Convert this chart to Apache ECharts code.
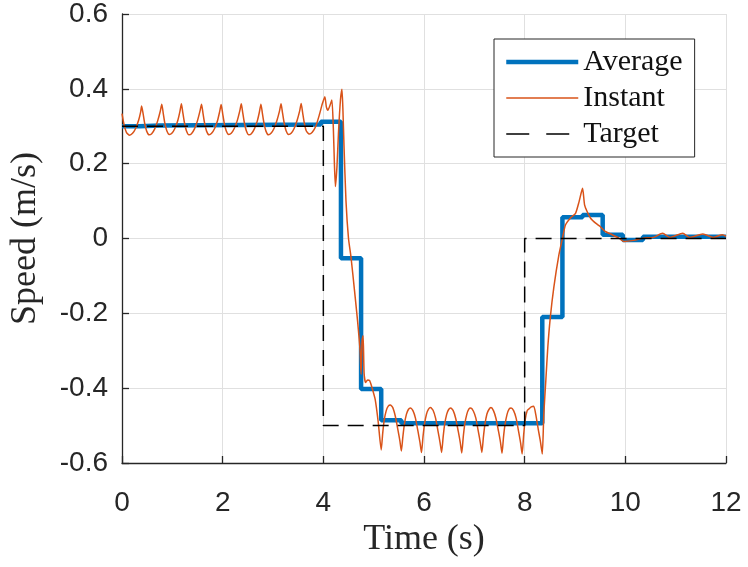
<!DOCTYPE html>
<html>
<head>
<meta charset="utf-8">
<script src="https://cdn.jsdelivr.net/npm/echarts@6/dist/echarts.min.js"></script>
<style>
  html, body { margin: 0; padding: 0; background: #fff; }
  #chart { width: 748px; height: 567px; }
</style>
</head>
<body>
<div id="chart"></div>
<script>
// tick labels
const xTicks = [0, 2, 4, 6, 8, 10, 12];
const yTicks = [-0.6, -0.4, -0.2, 0, 0.2, 0.4, 0.6];

// target speed (step profile)
const targetTime = [0, 4, 4, 8, 8, 12];
const targetSpeed = [0.3, 0.3, -0.5, -0.5, 0, 0];

// averaged speed, held between samples
const averageTime = [0, 0.35, 0.75, 3.95, 4.35, 4.75, 5.15, 5.55, 8.35, 8.75, 9.15, 9.55, 9.95, 10.35, 12];
const averageSpeed = [0.300, 0.302, 0.305, 0.312, -0.053, -0.402, -0.486, -0.494, -0.21, 0.057, 0.063, 0.01, -0.004, 0.005, 0.005];

// instant speed
const instantTime = [
  0, 0.04, 0.09, 0.15, 0.21, 0.27, 0.33, 0.37,
  0.39, 0.42, 0.45, 0.49, 0.54, 0.59, 0.65, 0.71, 0.76,
  0.79, 0.82, 0.85, 0.89, 0.94, 0.99, 1.05, 1.11, 1.15,
  1.18, 1.21, 1.24, 1.28, 1.33, 1.38, 1.44, 1.50, 1.55,
  1.58, 1.61, 1.64, 1.68, 1.73, 1.78, 1.84, 1.90, 1.94,
  1.97, 2.00, 2.03, 2.07, 2.12, 2.17, 2.23, 2.29, 2.34,
  2.37, 2.40, 2.43, 2.47, 2.52, 2.57, 2.63, 2.69, 2.73,
  2.76, 2.79, 2.82, 2.86, 2.91, 2.96, 3.02, 3.08, 3.13,
  3.16, 3.19, 3.22, 3.26, 3.31, 3.36, 3.42, 3.48, 3.53,
  3.56, 3.59, 3.62, 3.66, 3.72, 3.78, 3.85, 3.92, 3.98,
  4.03, 4.06, 4.09, 4.13, 4.17, 4.20, 4.22, 4.24, 4.27, 4.30, 4.34,
  4.37, 4.39, 4.41, 4.45, 4.50, 4.55, 4.62, 4.68, 4.73, 4.75, 4.77, 4.79, 4.81,
  4.84, 4.88, 4.92, 4.97, 5.03, 5.09,
  5.15, 5.18, 5.21, 5.25, 5.29, 5.33, 5.38, 5.43, 5.48, 5.52,
  5.55, 5.58, 5.61, 5.65, 5.69, 5.73, 5.78, 5.83, 5.88, 5.92,
  5.95, 5.98, 6.01, 6.05, 6.09, 6.13, 6.18, 6.23, 6.28, 6.32,
  6.35, 6.38, 6.41, 6.45, 6.49, 6.53, 6.58, 6.63, 6.68, 6.72,
  6.75, 6.78, 6.81, 6.85, 6.89, 6.93, 6.98, 7.03, 7.08, 7.12,
  7.15, 7.18, 7.21, 7.25, 7.29, 7.33, 7.38, 7.43, 7.48, 7.52,
  7.55, 7.58, 7.61, 7.65, 7.69, 7.73, 7.78, 7.83, 7.88, 7.92,
  7.95, 7.98, 8.01, 8.05, 8.08, 8.13, 8.18, 8.22, 8.27, 8.31,
  8.35, 8.38, 8.42, 8.46, 8.51, 8.58, 8.68, 8.75, 8.81, 8.91, 9.01, 9.08,
  9.15, 9.19, 9.24, 9.31, 9.41, 9.50, 9.60, 9.74, 9.87, 9.97,
  10.17, 10.36, 10.56, 10.74, 10.89, 11.14, 11.28, 11.54, 11.75, 11.93, 12
];
const instantSpeed = [
  0.334, 0.305, 0.283, 0.276, 0.281, 0.294, 0.316, 0.338,
  0.354, 0.333, 0.308, 0.287, 0.277, 0.280, 0.293, 0.315, 0.340,
  0.359, 0.334, 0.309, 0.288, 0.278, 0.281, 0.294, 0.316, 0.339,
  0.360, 0.335, 0.310, 0.288, 0.277, 0.280, 0.293, 0.315, 0.341,
  0.359, 0.334, 0.309, 0.287, 0.277, 0.281, 0.294, 0.316, 0.339,
  0.358, 0.334, 0.309, 0.288, 0.278, 0.281, 0.294, 0.315, 0.341,
  0.360, 0.335, 0.310, 0.288, 0.277, 0.280, 0.293, 0.315, 0.338,
  0.359, 0.334, 0.309, 0.287, 0.277, 0.281, 0.294, 0.316, 0.341,
  0.360, 0.335, 0.310, 0.288, 0.278, 0.281, 0.294, 0.316, 0.341,
  0.361, 0.335, 0.310, 0.288, 0.279, 0.284, 0.300, 0.330, 0.360,
  0.379, 0.352, 0.343, 0.355, 0.370, 0.290, 0.200, 0.139, 0.190, 0.280, 0.370,
  0.399, 0.340, 0.250, 0.100, 0.000, -0.050, -0.140, -0.220, -0.300, -0.363, -0.270, -0.260, -0.360,
  -0.385, -0.378, -0.380, -0.400, -0.430, -0.490,
  -0.565, -0.520, -0.485, -0.460, -0.448, -0.445, -0.452, -0.475, -0.510, -0.540,
  -0.568, -0.530, -0.497, -0.470, -0.457, -0.453, -0.460, -0.480, -0.515, -0.545,
  -0.572, -0.530, -0.496, -0.469, -0.456, -0.452, -0.459, -0.480, -0.516, -0.546,
  -0.572, -0.531, -0.497, -0.470, -0.457, -0.453, -0.460, -0.481, -0.515, -0.545,
  -0.573, -0.530, -0.496, -0.470, -0.456, -0.453, -0.461, -0.480, -0.516, -0.546,
  -0.572, -0.531, -0.497, -0.469, -0.457, -0.452, -0.460, -0.481, -0.515, -0.545,
  -0.574, -0.530, -0.497, -0.470, -0.456, -0.453, -0.460, -0.480, -0.516, -0.547,
  -0.576, -0.525, -0.485, -0.460, -0.456, -0.450, -0.448, -0.470, -0.510, -0.540,
  -0.576, -0.470, -0.380, -0.290, -0.210, -0.130, -0.044, 0.000, 0.036, 0.055, 0.067, 0.098,
  0.134, 0.090, 0.072, 0.054, 0.041, 0.032, 0.019, 0.010, 0.001, -0.008,
  -0.005, 0.001, 0.003, 0.014, 0.003, 0.014, 0.003, 0.012, 0.003, 0.010, 0.006
];

const zip = (xs, ys) => xs.map((x, i) => [x, ys[i]]);

const axisColor = "#262626";
const gridColor = "#e0e0e0";
const tickFont = { fontFamily: "Liberation Sans", fontSize: 28, color: axisColor };
const nameFont = { fontFamily: "Liberation Serif", fontSize: 36, color: axisColor };

const chart = echarts.init(document.getElementById("chart"), null, { renderer: "canvas" });

const option = {
  animation: false,
  backgroundColor: "#fff",
  grid: { left: 120, right: 22, top: 12, bottom: 104, containLabel: false },
  legend: {
    orient: "vertical",
    left: 494,
    top: 39,
    padding: [8, 12, 8, 10],
    itemWidth: 72,
    itemHeight: 14,
    itemGap: 6,
    backgroundColor: "#fff",
    borderColor: axisColor,
    borderWidth: 1,
    borderRadius: 0,
    selectedMode: false,
    itemStyle: { color: "transparent", borderColor: "transparent", borderWidth: 0, opacity: 0 },
    textStyle: { fontFamily: "Liberation Serif", fontSize: 30, color: "#111" },
    data: [
      { name: "Average", lineStyle: { width: 4.5 } },
      { name: "Instant", lineStyle: { width: 1.5 } },
      { name: "Target", lineStyle: { width: 1.5, type: [23, 17] } }
    ]
  },
  xAxis: {
    type: "value",
    min: xTicks[0],
    max: xTicks[xTicks.length - 1],
    interval: 2,
    name: "Time (s)",
    nameLocation: "middle",
    nameGap: 58,
    nameTextStyle: nameFont,
    axisLine: { show: true, onZero: false, lineStyle: { color: axisColor, width: 1.3 } },
    axisTick: { show: true, inside: true, length: 7, lineStyle: { color: axisColor, width: 1.3 } },
    axisLabel: Object.assign({ margin: 26 }, tickFont),
    splitLine: { show: true, lineStyle: { color: gridColor, width: 1 } }
  },
  yAxis: {
    type: "value",
    min: yTicks[0],
    max: yTicks[yTicks.length - 1],
    interval: 0.2,
    name: "Speed (m/s)",
    nameLocation: "middle",
    nameGap: 78,
    nameTextStyle: nameFont,
    axisLine: { show: true, onZero: false, lineStyle: { color: axisColor, width: 1.3 } },
    axisTick: { show: true, inside: true, length: 7, lineStyle: { color: axisColor, width: 1.3 } },
    axisLabel: Object.assign({ margin: 14, formatter: v => (Math.abs(v) < 1e-9 ? "0" : String(+v.toFixed(1))) }, tickFont),
    splitLine: { show: true, lineStyle: { color: gridColor, width: 1 } }
  },
  series: [
    {
      name: "Average",
      type: "line",
      step: "end",
      symbol: "none",
      z: 2,
      color: "#0072BD",
      lineStyle: { color: "#0072BD", width: 4.5 },
      data: zip(averageTime, averageSpeed)
    },
    {
      name: "Instant",
      type: "line",
      symbol: "none",
      smooth: 0.2,
      z: 3,
      color: "#D95319",
      lineStyle: { color: "#D95319", width: 1.5 },
      data: zip(instantTime, instantSpeed)
    },
    {
      name: "Target",
      type: "line",
      symbol: "none",
      z: 4,
      color: "#000",
      lineStyle: { color: "#000", width: 1.5, type: [16, 9] },
      data: zip(targetTime, targetSpeed)
    }
  ]
};

chart.setOption(option);
</script>
</body>
</html>
